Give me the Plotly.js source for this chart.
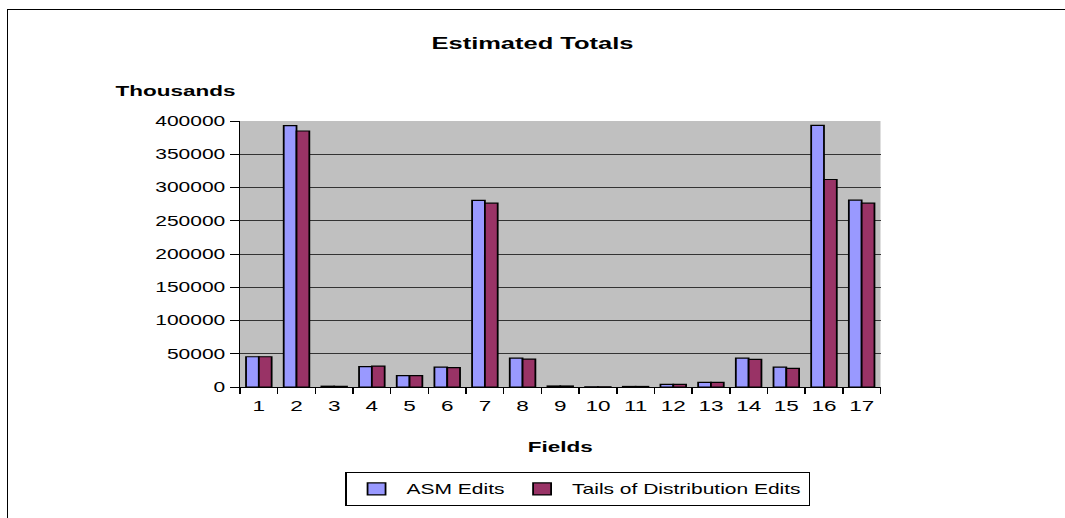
<!DOCTYPE html>
<html>
<head>
<meta charset="utf-8">
<script src="https://cdn.plot.ly/plotly-3.0.1.min.js"></script>
<style>
  html, body { margin: 0; padding: 0; background: #fff; overflow: hidden; }
  #wrap { position: relative; width: 1065px; height: 518px; }
  #plot { position: absolute; left: 0; top: 0; width: 710px; height: 518px;
          transform: scaleX(1.5); transform-origin: 0 0; }
  #frame { position: absolute; left: 7px; top: 9px; width: 1070px; height: 520px;
           border-left: 1px solid #000; border-top: 1px solid #000; pointer-events: none; }
</style>
</head>
<body>
<div id="wrap">
  <div id="plot"></div>
  <div id="frame"></div>
</div>
<script>
const fields = ["1","2","3","4","5","6","7","8","9","10","11","12","13","14","15","16","17"];
const asmEdits = [45500, 393000, 1200, 30500, 17000, 30000, 280500, 43500, 1500, 300, 800, 4000, 7000, 43500, 30000, 393500, 281000];
const tailsEdits = [45500, 385000, 1000, 31500, 17000, 29000, 276500, 42000, 1500, 300, 800, 4000, 7000, 41500, 28000, 312000, 276500];
const yTicks = [0, 50000, 100000, 150000, 200000, 250000, 300000, 350000, 400000];

const FONT = "Arial, 'Liberation Sans', sans-serif";

const traces = [
  { type: "bar", name: "ASM Edits", x: fields, y: asmEdits,
    marker: { color: "#9999FF", line: { color: "#000", width: 1.2 } }, hoverinfo: "none" },
  { type: "bar", name: "Tails of Distribution Edits", x: fields, y: tailsEdits,
    marker: { color: "#993366", line: { color: "#000", width: 1.2 } }, hoverinfo: "none" }
];

const layout = {
  width: 710, height: 518,
  margin: { l: 160, r: 123, t: 121, b: 129 },
  paper_bgcolor: "rgba(0,0,0,0)",
  plot_bgcolor: "#C0C0C0",
  barmode: "group", bargap: 0.32, bargroupgap: 0,
  font: { family: FONT, color: "#000", size: 14 },
  title: { text: "<b>Estimated Totals</b>", font: { family: FONT, size: 17, color: "#000" },
           x: 0.5, xanchor: "center", y: 1 - 43/518, yanchor: "middle" },
  xaxis: { type: "category", tickson: "boundaries", ticks: "outside", ticklen: 6, tickcolor: "#000",
           tickangle: 0, ticklabelstandoff: 5, showline: true, linecolor: "#000", linewidth: 1, showgrid: false,
           tickfont: { size: 15 },
           title: { text: "<b>Fields</b>", font: { size: 15 }, standoff: 28 } },
  yaxis: { range: [0, 400000], tickvals: yTicks, ticktext: yTicks.map(String),
           ticks: "outside", ticklen: 6, tickcolor: "#000",
           showline: true, linecolor: "#000", linewidth: 1,
           showgrid: true, gridcolor: "#333", gridwidth: 1, zeroline: false,
           tickfont: { size: 14 } },
  annotations: [
    { text: "<b>Thousands</b>", xref: "paper", yref: "paper", x: (75 - 160) / 427, y: (389 - 90) / 268,
      xanchor: "left", yanchor: "middle", showarrow: false, font: { size: 15 } }
  ],
  legend: { orientation: "h", x: 0.527, xanchor: "center", y: (389 - 475) / 268, yanchor: "top",
            bordercolor: "#000", borderwidth: 1, bgcolor: "#fff", font: { size: 14 },
            itemwidth: 30, traceorder: "normal" },
  showlegend: true
};

Plotly.newPlot("plot", traces, layout, { staticPlot: true, displayModeBar: false });
</script>
</body>
</html>
